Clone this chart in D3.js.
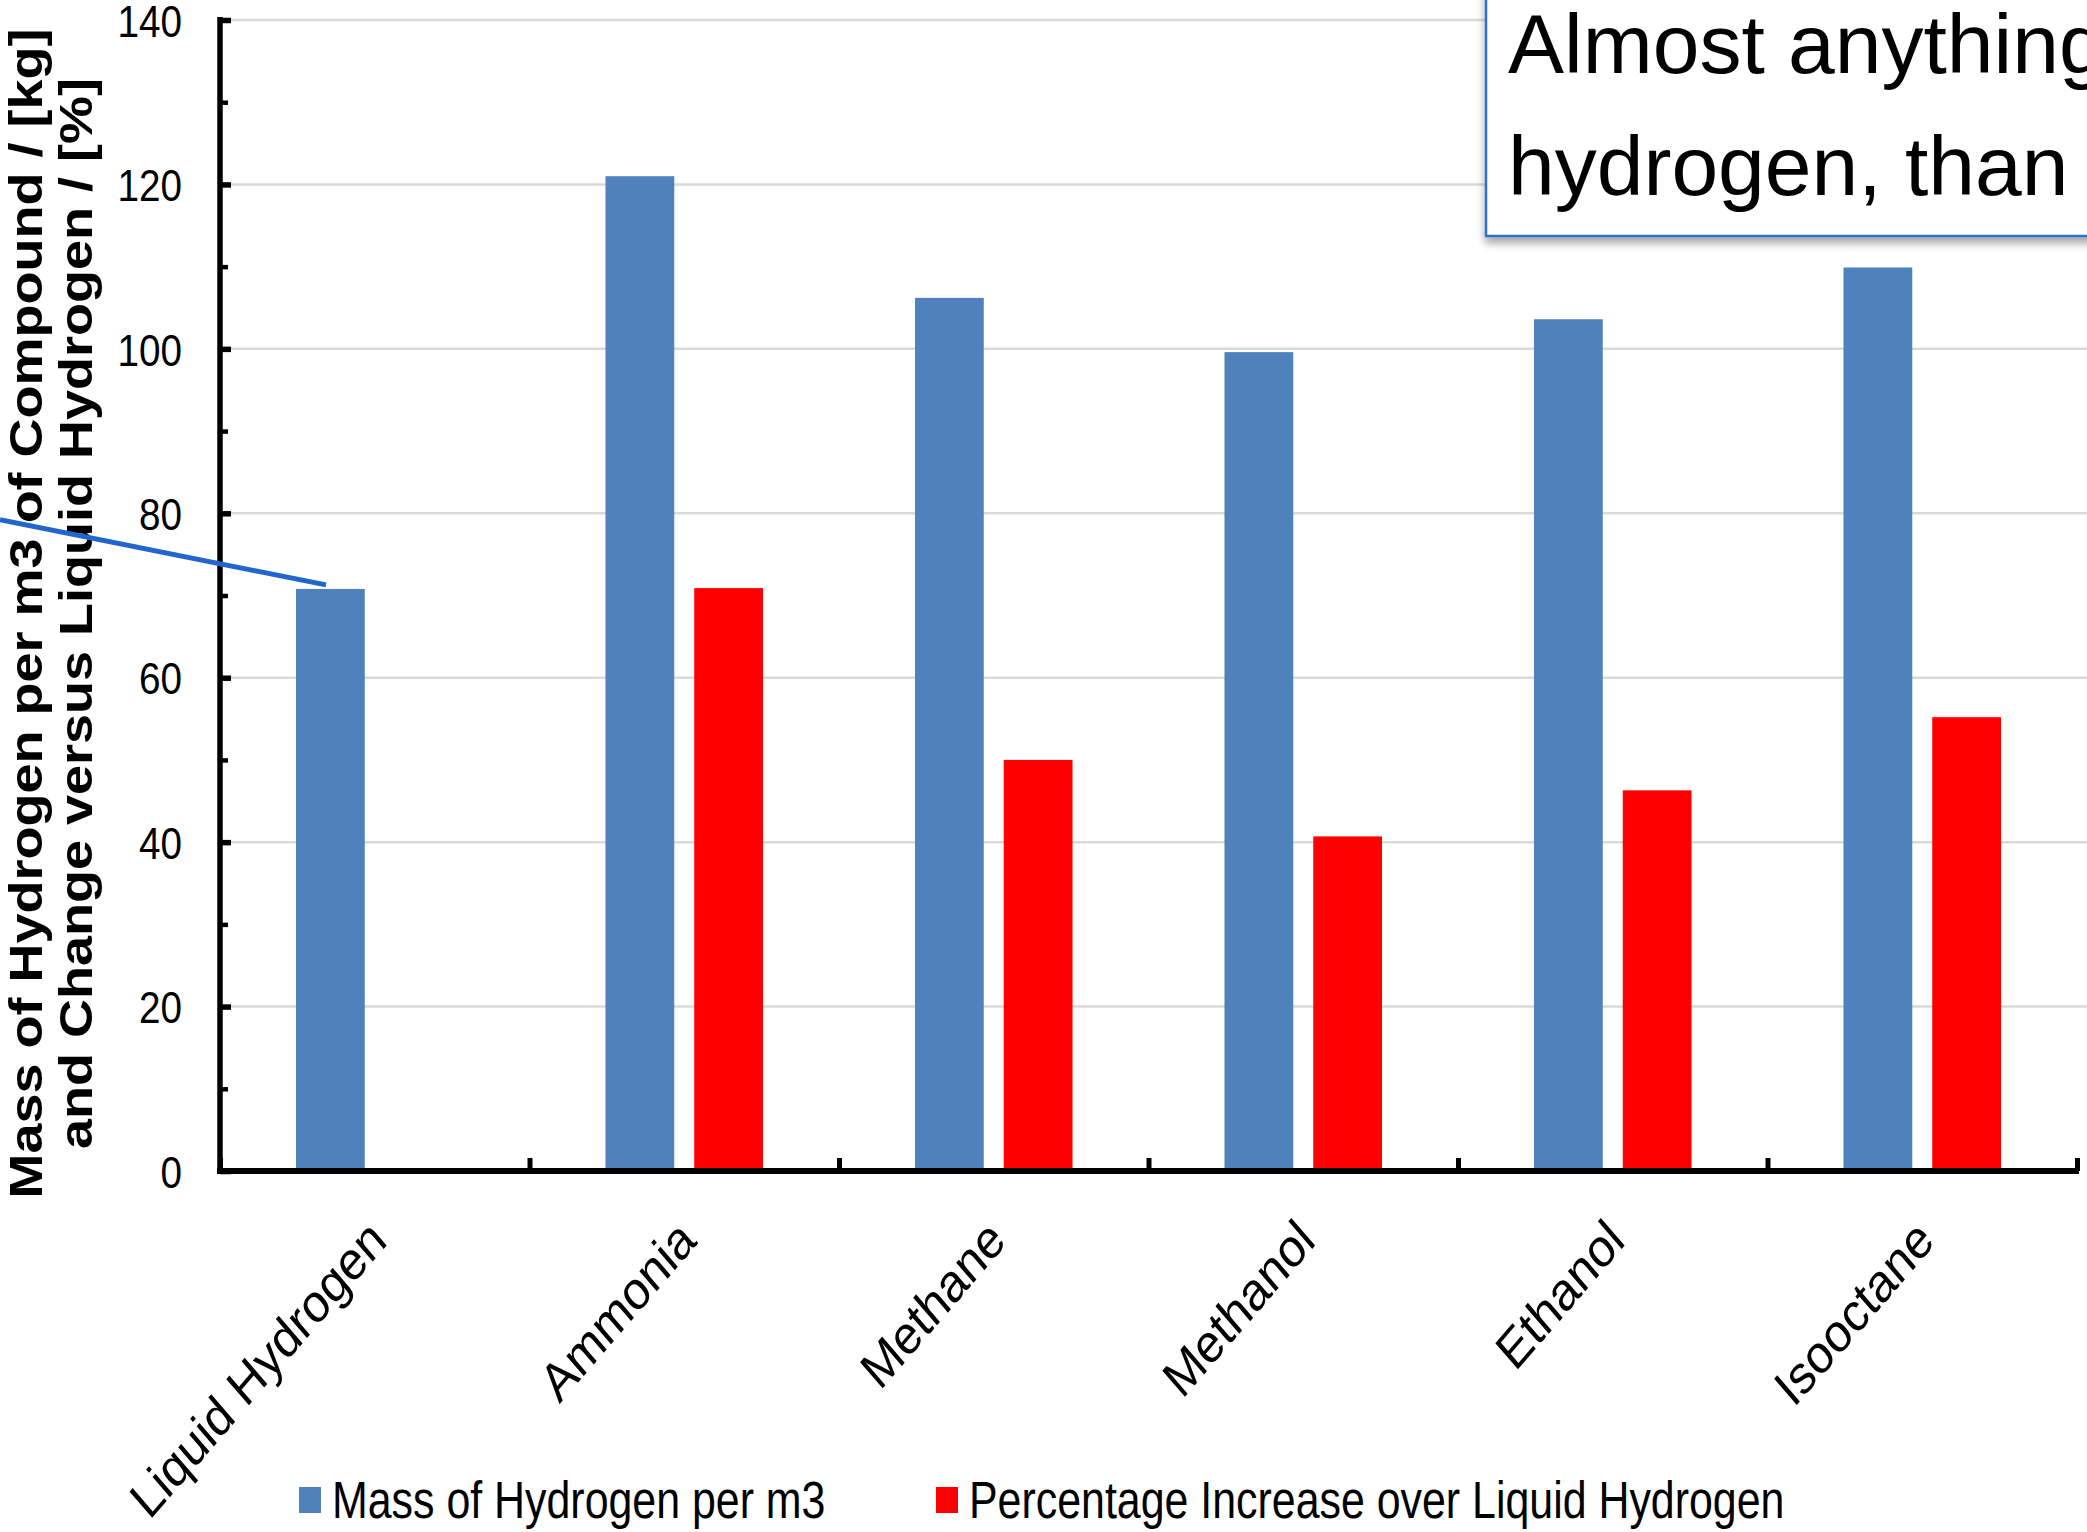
<!DOCTYPE html>
<html>
<head>
<meta charset="utf-8">
<script src="https://cdn.jsdelivr.net/npm/d3@7"></script>
<style>
  html, body { margin: 0; padding: 0; background: #fff; overflow: hidden; }
  svg { display: block; }
</style>
</head>
<body>
<svg id="chart" width="2087" height="1532"></svg>
<script>
// ---- data ----
const categories = ["Liquid Hydrogen", "Ammonia", "Methane", "Methanol", "Ethanol", "Isooctane"];
const seriesNames = ["Mass of Hydrogen per m3", "Percentage Increase over Liquid Hydrogen"];
const massPerM3 = [70.8, 121.0, 106.2, 99.6, 103.6, 109.9];     // kg of H2 per m3 of compound
const pctIncrease = [0, 70.9, 50.0, 40.7, 46.3, 55.2];           // % over liquid hydrogen
const yTickValues = [0, 20, 40, 60, 80, 100, 120, 140];
const yMinorTicks = [10, 30, 50, 70, 90, 110, 130];
const seriesColors = ["#4F81BD", "#FF0000"];
const yTitleLines = ["Mass of Hydrogen per m3 of Compound / [kg]",
                     "and Change versus Liquid Hydrogen / [%]"];
const noteLines = ["Almost anything", "hydrogen, than"];

// ---- layout ----
const W = 2087, H = 1532;
const plot = { left: 220, right: 2077, top: 20, bottom: 1171 };
const FONT = "'Liberation Sans', Arial, Helvetica, sans-serif";
const SX = 0.86;           // horizontal squeeze applied to chart lettering

const svg = d3.select("#chart");
svg.append("rect").attr("width", W).attr("height", H).attr("fill", "#fff");

const defs = svg.append("defs");
defs.append("filter").attr("id", "boxShadow")
  .attr("x", "-10%").attr("y", "-10%").attr("width", "130%").attr("height", "140%")
  .append("feDropShadow")
  .attr("dx", 0).attr("dy", 6).attr("stdDeviation", 4)
  .attr("flood-color", "#000").attr("flood-opacity", 0.35);

// ---- scales ----
const y = d3.scaleLinear().domain([0, 140]).range([plot.bottom, plot.top]);
const x0 = d3.scaleBand().domain(categories).range([plot.left, plot.right]).padding(0);
const bw = x0.bandwidth();
const x1 = d3.scaleBand().domain(seriesNames)
  .range([bw * 0.2455, bw * 0.7545]).paddingInner(0.225);
const xEdges = d3.scaleLinear().domain([0, categories.length]).range([plot.left, plot.right]);

// ---- gridlines ----
svg.append("g").selectAll("line")
  .data(yTickValues.filter(v => v > 0))
  .join("line")
  .attr("x1", plot.left).attr("x2", W)
  .attr("y1", d => y(d)).attr("y2", d => y(d))
  .attr("stroke", "#d9d9d9").attr("stroke-width", 2.5);

// ---- bars ----
const rows = categories.map((c, i) => ({ c, values: [massPerM3[i], pctIncrease[i]] }));
const groups = svg.append("g").selectAll("g")
  .data(rows).join("g")
  .attr("transform", d => `translate(${x0(d.c)},0)`);
groups.selectAll("rect")
  .data(d => d.values.map((v, k) => ({ k, v })).filter(e => e.v > 0))
  .join("rect")
  .attr("x", e => x1(seriesNames[e.k]))
  .attr("width", x1.bandwidth())
  .attr("y", e => y(e.v))
  .attr("height", e => y(0) - y(e.v))
  .attr("fill", e => seriesColors[e.k]);

// ---- y axis ----
const yMinor = svg.append("g").attr("transform", `translate(${plot.left},0)`)
  .call(d3.axisLeft(y).tickValues(yMinorTicks).tickSize(-8).tickSizeOuter(0).tickFormat(""));
yMinor.select(".domain").remove();
yMinor.selectAll(".tick line").attr("stroke", "#000").attr("stroke-width", 4.5);

const yAxis = svg.append("g").attr("transform", `translate(${plot.left},0)`)
  .call(d3.axisLeft(y).tickValues(yTickValues).tickSize(-11).tickSizeOuter(0).tickPadding(0));
yAxis.select(".domain").attr("stroke", "#000").attr("stroke-width", 5.5)
  .attr("d", `M0,${plot.top - 3}V${plot.bottom + 3}`);
yAxis.selectAll(".tick line").attr("stroke", "#000").attr("stroke-width", 5.5);
yAxis.selectAll(".tick text")
  .attr("x", null).attr("dy", "0.36em")
  .attr("transform", `translate(-38,0) scale(${SX},1)`)
  .attr("font-family", FONT).attr("font-size", 45).attr("fill", "#000")
  .attr("text-anchor", "end");

// ---- x axis (ticks on category boundaries) ----
const xAxis = svg.append("g").attr("transform", `translate(0,${plot.bottom})`)
  .call(d3.axisBottom(xEdges).tickValues(d3.range(categories.length + 1))
    .tickSize(-13).tickSizeOuter(0).tickFormat(""));
xAxis.select(".domain").attr("stroke", "#000").attr("stroke-width", 6)
  .attr("d", `M${plot.left - 3},0H${plot.right + 2}`);
xAxis.selectAll(".tick line").attr("stroke", "#000").attr("stroke-width", 5);

// category labels, slanted
svg.append("g").selectAll("text")
  .data(categories).join("text")
  .attr("transform", c => `translate(${x0(c) + bw / 2 + 14},${plot.bottom + 72}) scale(${SX},1) rotate(-45)`)
  .attr("text-anchor", "end")
  .attr("font-family", FONT).attr("font-size", 54).attr("fill", "#000")
  .text(c => c);

// ---- y title ----
const titleBaselines = [42, 92];
svg.append("g").selectAll("text")
  .data(yTitleLines).join("text")
  .attr("transform", (t, i) => `translate(${titleBaselines[i]},${(plot.top + plot.bottom) / 2 + 18}) scale(${SX},1) rotate(-90)`)
  .attr("text-anchor", "middle")
  .attr("font-family", FONT).attr("font-weight", "bold").attr("font-size", 54).attr("fill", "#000")
  .text(t => t);

// ---- legend ----
const legendX = [299, 936];
const legend = svg.append("g").selectAll("g")
  .data(seriesNames).join("g")
  .attr("transform", (s, i) => `translate(${legendX[i]},1487)`);
legend.append("rect").attr("width", 22).attr("height", 26)
  .attr("fill", (s, i) => seriesColors[i]);
legend.append("text")
  .attr("transform", `translate(33,31) scale(0.825,1)`)
  .attr("font-family", FONT).attr("font-size", 52).attr("fill", "#000")
  .text(s => s);

// ---- callout line to the liquid hydrogen bar ----
const lhTopX = x0(categories[0]) + x1(seriesNames[0]) + 30;
const lhTopY = y(massPerM3[0]) - 4;
svg.append("line")
  .attr("x1", 0).attr("y1", lhTopY - lhTopX * 0.2)
  .attr("x2", lhTopX).attr("y2", lhTopY)
  .attr("stroke", "#2166CC").attr("stroke-width", 5);

// ---- note box ----
const note = svg.append("g");
note.append("rect")
  .attr("x", 1486).attr("y", -20).attr("width", 700).attr("height", 256)
  .attr("fill", "#fff").attr("stroke", "#2F6FD1").attr("stroke-width", 2.5)
  .attr("filter", "url(#boxShadow)");
note.selectAll("text")
  .data(noteLines).join("text")
  .attr("x", 1508).attr("y", (t, i) => 73 + i * 122)
  .attr("font-family", FONT).attr("font-size", 84).attr("fill", "#000")
  .text(t => t);
</script>
</body>
</html>
